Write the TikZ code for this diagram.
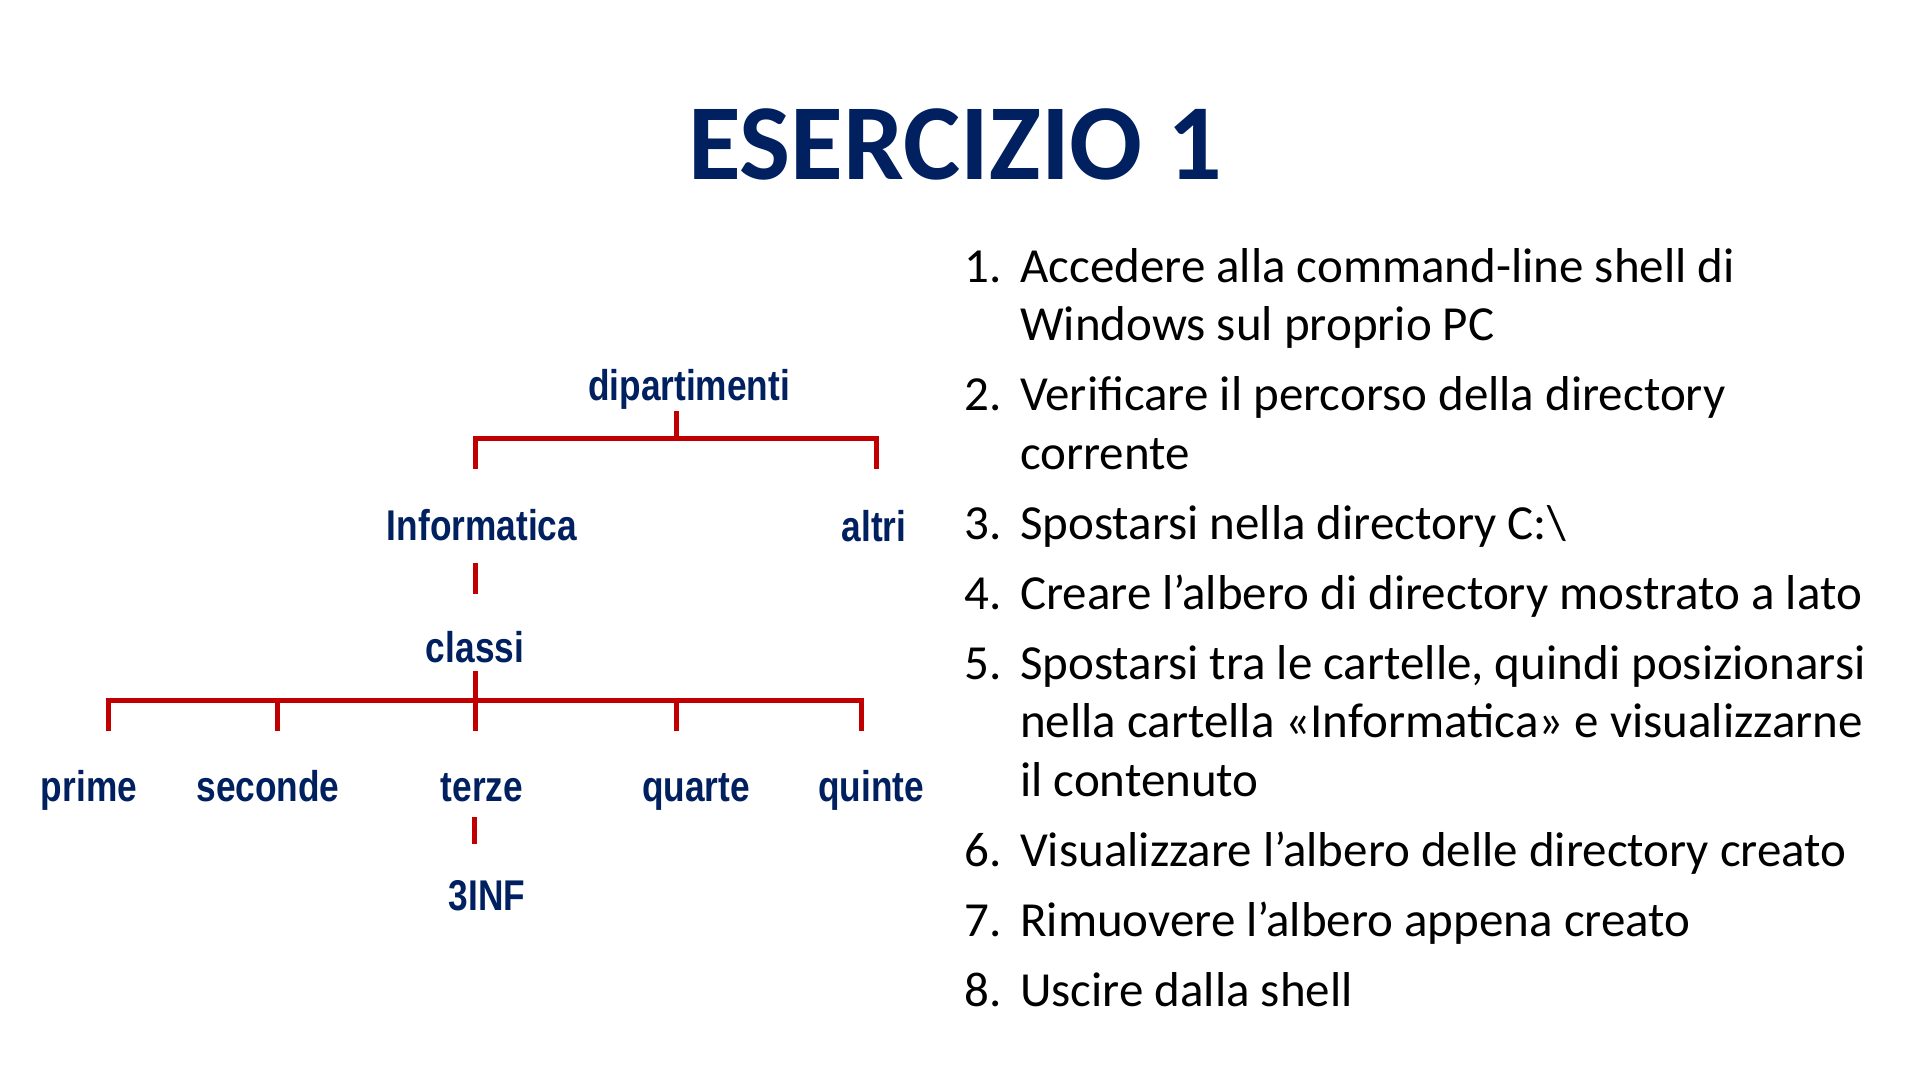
\documentclass[tikz,border=0pt]{standalone}
\usepackage{fontspec}
\setmainfont{Carlito}
\newfontfamily\treefont{Liberation Sans}[FakeStretch=0.82]
\definecolor{navy}{HTML}{002060}
\definecolor{branchred}{HTML}{C00000}
\begin{document}
\begin{tikzpicture}[x=1pt,y=-1pt,
  title/.style={font=\fontsize{108}{120}\selectfont\bfseries, text=navy, inner sep=0pt, anchor=base},
  dir/.style={font=\treefont\fontsize{43}{50}\selectfont\bfseries, text=navy, inner sep=0pt, anchor=base},
  branch/.style={draw=branchred, line width=5pt},
  num/.style={font=\fontsize{49}{58}\selectfont, inner sep=0pt, anchor=base west},
  item/.style={font=\fontsize{49}{58}\selectfont, inner sep=0pt, anchor=base west}]
\useasboundingbox[fill=white] (0,0) rectangle (1920,1080);

% heading
\node[title] (head) at (955,179) {ESERCIZIO 1};

% directory tree labels
\node[dir] (dip)   at (689,400) {dipartimenti};
\node[dir] (inf)   at (482,540) {Informatica};
\node[dir] (altri) at (874,541) {altri};
\node[dir] (cls)   at (475,662) {classi};
\node[dir] (prime) at (89,801)  {prime};
\node[dir] (sec)   at (268,801) {seconde};
\node[dir] (ter)   at (482,801) {terze};
\node[dir] (qua)   at (696,801) {quarte};
\node[dir] (qui)   at (871,801) {quinte};
\node[dir] (inf3)  at (487,910) {3INF};

% junction points of the branches
\coordinate (dipstub) at (676,411);
\coordinate (topbar)  at (676,438);
\coordinate (tl) at (475,438);
\coordinate (tr) at (876,438);
\coordinate (infstubtop) at (475,563);
\coordinate (infstubbot) at (475,594);
\coordinate (clsstub) at (475,671);
\coordinate (lowbar)  at (475,700);
\coordinate (bl) at (108,700);
\coordinate (br) at (861,700);
\coordinate (terstubtop) at (474,817);
\coordinate (terstubbot) at (474,844);

% dipartimenti -> Informatica, altri
\draw[branch] (dipstub) -- (topbar);
\draw[branch] (tl) -- (tr);
\draw[branch] (tl) ++(0,-2.5) -- ++(0,33.5);
\draw[branch] (tr) ++(0,-2.5) -- ++(0,33.5);

% Informatica -> classi
\draw[branch] (infstubtop) -- (infstubbot);

% classi -> the five year folders
\draw[branch] (clsstub) -- (lowbar);
\draw[branch] (bl) -- (br);
\foreach \xx in {108,277,475,676,861}
  \draw[branch] (\xx,697.5) -- (\xx,731);

% terze -> 3INF
\draw[branch] (terstubtop) -- (terstubbot);

% exercise steps
\foreach \n/\y in {1/282,2/410.5,3/539,4/609,5/679,6/866,7/936,8/1006}
  \node[num] (n\n) at (964,\y) {\n.};

\node[item] (s1a) at (1020,282)   {Accedere alla command-line shell di};
\node[item] (s1b) at (1020,340.5) {Windows sul proprio PC};
\node[item] (s2a) at (1020,410.5) {Verificare il percorso della directory};
\node[item] (s2b) at (1020,469)   {corrente};
\node[item] (s3)  at (1020,539)   {Spostarsi nella directory C:\textbackslash};
\node[item] (s4)  at (1020,609)   {Creare l’albero di directory mostrato a lato};
\node[item] (s5a) at (1020,679)   {Spostarsi tra le cartelle, quindi posizionarsi};
\node[item] (s5b) at (1020,737.5) {nella cartella «Informatica» e visualizzarne};
\node[item] (s5c) at (1020,796)   {il contenuto};
\node[item] (s6)  at (1020,866)   {Visualizzare l’albero delle directory creato};
\node[item] (s7)  at (1020,936)   {Rimuovere l’albero appena creato};
\node[item] (s8)  at (1020,1006)  {Uscire dalla shell};
\end{tikzpicture}
\end{document}
